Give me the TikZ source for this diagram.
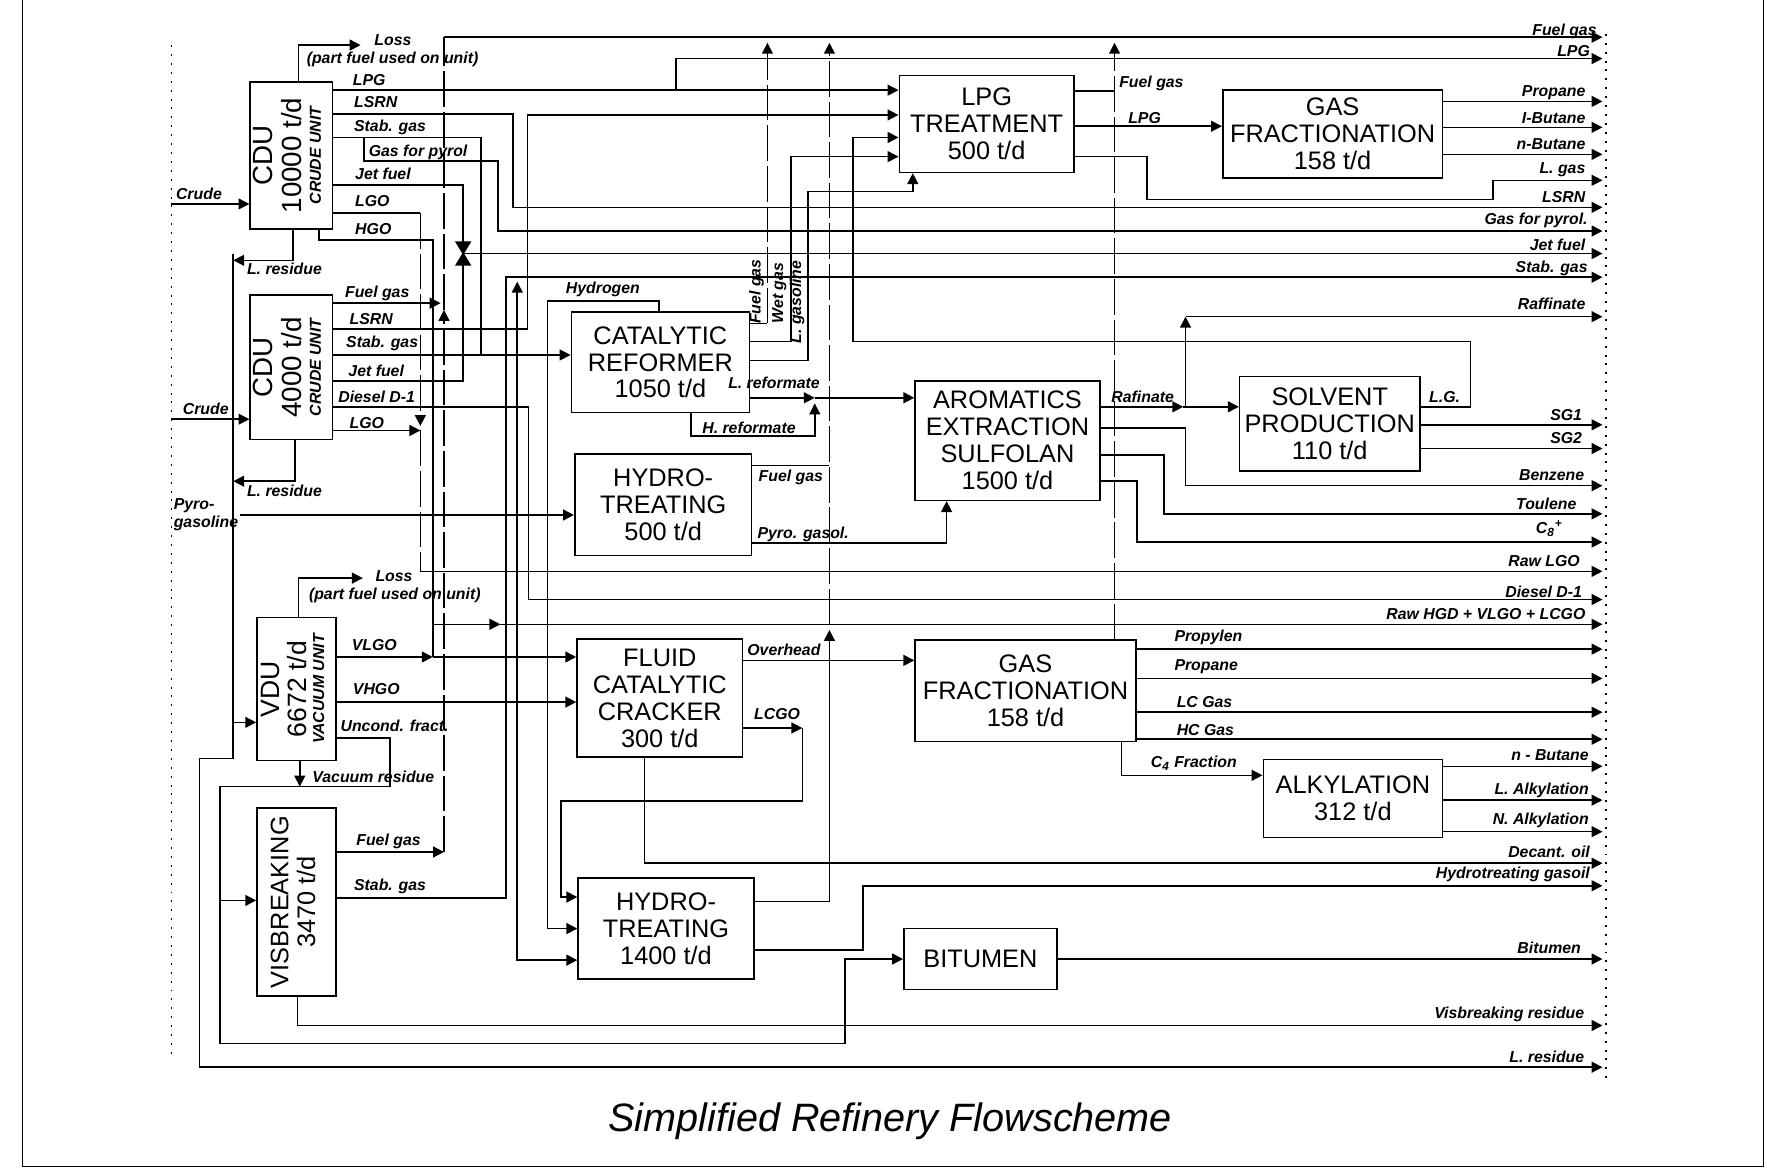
\documentclass[tikz,border=0pt]{standalone}
\usepackage{fontspec}
\setmainfont{Liberation Sans}
\usepackage{graphicx}
\usetikzlibrary{arrows.meta}
\newcommand{\unitfont}{\fontsize{12.8}{13.6}\selectfont}
\newcommand{\bigunitfont}{\fontsize{14}{14}\selectfont}
\newcommand{\tagfont}{\fontsize{8}{9}\selectfont\bfseries\itshape}
\tikzset{
  unit/.style={draw, line width=0.8pt, align=center, inner sep=0pt, font=\unitfont},
  tag/.style={font=\tagfont, inner sep=0.5pt, anchor=west},
  rtag/.style={font=\tagfont, inner sep=0.5pt, anchor=east},
  vtag/.style={font=\tagfont, inner sep=0.5pt, rotate=90, anchor=south east},
  pipe/.style={line width=0.8pt},
  flow/.style={pipe, -{Triangle[length=5.5pt,width=5.5pt]}},
  gapped/.style={dash pattern=on 18pt off 2.5pt},
  limit/.style={pipe, dash pattern=on 1pt off 3.5pt},
}
\begin{document}
\begin{tikzpicture}[x=0.02cm, y=-0.02cm]
\useasboundingbox (0,0) rectangle (1568,1037);
% frame and battery limits
\draw[pipe] (20,0) -- (20,1035) -- (1565,1035) -- (1565,0);
\draw[limit] (152,40) -- (152,940);
\draw[limit] (1425,30) -- (1425,962);

% process units
\node[unit, font=\bigunitfont, minimum width=1.46cm, minimum height=2.6cm] (cdua) at (258.5,138)
  {\rotatebox{90}{\begin{tabular}{@{}c@{}}CDU\\10000 t/d\\[-4pt]{\tagfont CRUDE UNIT}\end{tabular}}};
\node[unit, font=\bigunitfont, minimum width=1.46cm, minimum height=2.56cm] (cdub) at (258.5,326)
  {\rotatebox{90}{\begin{tabular}{@{}c@{}}CDU\\4000 t/d\\[-4pt]{\tagfont CRUDE UNIT}\end{tabular}}};
\node[unit, font=\fontsize{13.4}{13}\selectfont, minimum width=1.4cm, minimum height=2.54cm] (vdu) at (263,611.5)
  {\rotatebox{90}{\begin{tabular}{@{}c@{}}VDU\\6672 t/d\\[-4pt]{\tagfont VACUUM UNIT}\end{tabular}}};
\node[unit, minimum width=1.4cm, minimum height=3.34cm] (vb) at (263,800.5)
  {\rotatebox{90}{\begin{tabular}{@{}c@{}}VISBREAKING\\3470 t/d\end{tabular}}};
\node[unit, minimum width=3.1cm, minimum height=1.72cm] (lpgt) at (875.5,110) {LPG\\TREATMENT\\500 t/d};
\node[unit, minimum width=3.9cm, minimum height=1.56cm] (gfa) at (1182.5,119) {GAS\\FRACTIONATION\\158 t/d};
\node[unit, minimum width=3.16cm, minimum height=1.78cm] (cref) at (586,321.5) {CATALYTIC\\REFORMER\\1050 t/d};
\node[unit, minimum width=3.14cm, minimum height=1.8cm] (hta) at (588.5,448) {HYDRO-\\TREATING\\500 t/d};
\node[unit, minimum width=3.28cm, minimum height=2.12cm] (arom) at (894,391) {AROMATICS\\EXTRACTION\\SULFOLAN\\1500 t/d};
\node[unit, minimum width=3.2cm, minimum height=1.68cm] (solv) at (1180,376) {SOLVENT\\PRODUCTION\\110 t/d};
\node[unit, minimum width=2.94cm, minimum height=2.1cm] (fcc) at (585.5,619.5) {FLUID\\CATALYTIC\\CRACKER\\300 t/d};
\node[unit, minimum width=3.92cm, minimum height=1.8cm] (gfb) at (910,613) {GAS\\FRACTIONATION\\158 t/d};
\node[unit, minimum width=3.18cm, minimum height=1.38cm] (alky) at (1200.5,708.5) {ALKYLATION\\312 t/d};
\node[unit, minimum width=3.12cm, minimum height=1.8cm] (htb) at (591,824) {HYDRO-\\TREATING\\1400 t/d};
\node[unit, minimum width=2.72cm, minimum height=1.08cm] (bitu) at (870,851) {BITUMEN};

% CDU 10000
\draw[flow] (152,181) -- (cdua.west |- 0,181);
\draw[flow] (265,0 |- cdua.north) |- (320,40);
\draw[flow] (cdua.east |- 0,80) -- (lpgt.west |- 0,80);
\draw[flow] (600,80) |- (1422,52);
\draw[flow] (cdua.east |- 0,101) -| (455,184) -- (1422,184);
\draw[pipe] (cdua.east |- 0,122) -| (427,315);
\draw[flow] (323,122) |- (442,143) |- (1422,205);
\draw[pipe] (cdua.east |- 0,164) -| (411,215);
\filldraw[pipe] (405,215) -- (417,215) -- (411,225) -- cycle (405,235) -- (417,235) -- (411,225) -- cycle;
\draw[flow] (411,225) -- (1422,225);
\draw[pipe] (cdua.east |- 0,189) -- (373,189);
\draw[flow, gapped] (373,189) -- (373,378);
\draw[pipe] (283,0 |- cdua.south) |- (384,213) -- (384,583);
\draw[flow] (260,0 |- cdua.south) |- (207,231);

% CDU 4000
\draw[flow] (152,372) -- (cdub.west |- 0,372);
\draw[flow] (cdub.east |- 0,269) -- (391,269);
\draw[flow] (cdub.east |- 0,292) -| (468,102) -- (lpgt.west |- 0,102);
\draw[flow] (cdub.east |- 0,315) -- (cref.west |- 0,315);
\draw[pipe] (cdub.east |- 0,338) -| (411,235);
\draw[flow] (cdub.east |- 0,361) -| (469,532) -- (1422,532);
\draw[flow] (cdub.east |- 0,382) -- (373,382);
\draw[pipe, gapped] (373,382) -- (373,507);
\draw[flow] (373,507) -- (1422,507);
\draw[flow] (262,0 |- cdub.south) |- (207,427);
\draw[flow] (213,457) -- (hta.west |- 0,457);

% residue header
\draw[flow] (207,225) |- (177,673) |- (1422,947);
\draw[flow] (207,641) -- (vdu.west |- 0,641);

% VDU
\draw[flow] (265,0 |- vdu.north) |- (322,513);
\draw[flow] (vdu.east |- 0,583) -- (384,583);
\draw[flow] (384,583) -- (fcc.west |- 0,583);
\draw[flow] (384,554) -- (444,554);
\draw[flow] (444,554) -- (1422,554);
\draw[flow] (vdu.east |- 0,623) -- (fcc.west |- 0,623);
\draw[pipe] (vdu.east |- 0,655) -| (346,698);
\draw[flow] (266,0 |- vdu.south) -- (266,698);
\draw[flow] (346,698) -| (195,926) -| (750,851) -- (bitu.west);
\draw[flow] (195,799) -- (vb.west |- 0,799);

% visbreaking
\draw[flow] (vb.east |- 0,756) -- (394,756);
\draw[flow, gapped] (394,756) -- (394,275);
\draw[pipe, gapped] (394,275) -- (394,33);
\draw[flow] (394,33) -- (1422,33);
\draw[flow] (vb.east |- 0,797) -| (449,246) -- (1422,246);
\draw[flow] (264,0 |- vb.south) |- (1422,910);

% stab. gas and hydrogen
\draw[flow] (459,315) -- (459,250);
\draw[flow] (459,315) |- (htb.west |- 0,852);
\draw[flow] (585,0 |- cref.north) |- (486,267) |- (htb.west |- 0,824);

% reformer
\draw[pipe] (cref.east |- 0,287) -- (681,287);
\draw[flow, gapped] (681,287) -- (681,38);
\draw[flow] (cref.east |- 0,303) -| (702,139) -- (lpgt.west |- 0,139);
\draw[flow] (cref.east |- 0,320) -| (717,170) -| (lpgt.south -| 810,0);
\draw[flow] (cref.east |- 0,353) -- (723,353);
\draw[flow] (723,353) -- (arom.west |- 0,353);
\draw[flow] (613,0 |- cref.south) |- (723,387) -- (723,358);

% hydrotreating 500
\draw[pipe] (hta.east |- 0,413) -- (736,413);
\draw[flow] (hta.east |- 0,482) -| (arom.south -| 840,0);
\draw[flow] (htb.east |- 0,800) -| (736,559);
\draw[flow, gapped] (736,554) -- (736,38);

% LPG treatment and gas fractionation
\draw[pipe] (lpgt.east |- 0,81) -- (989,81);
\draw[flow, gapped] (989,0 |- gfb.north) -- (989,38);
\draw[flow] (lpgt.east |- 0,112) -- (gfa.west |- 0,112);
\draw[flow] (lpgt.east |- 0,139) -| (1018,177) -| (1325,160) -- (1422,160);
\foreach \y in {90,113,137} \draw[flow] (gfa.east |- 0,\y) -- (1422,\y);

% aromatics and solvent
\draw[flow] (arom.east |- 0,361) -- (1050,361);
\draw[flow] (1050,361) -- (solv.west |- 0,361);
\draw[flow] (1052,361) -- (1052,281);
\draw[flow] (1052,281) -- (1422,281);
\draw[flow] (arom.east |- 0,380) -| (1052,431) -- (1422,431);
\draw[flow] (arom.east |- 0,404) -| (1033,456) -- (1422,456);
\draw[flow] (arom.east |- 0,427) -| (1009,481) -- (1422,481);
\foreach \y in {377,398} \draw[flow] (solv.east |- 0,\y) -- (1422,\y);
\draw[flow] (solv.east |- 0,361) -| (1305,303) -| (757,122) -- (lpgt.west |- 0,122);

% FCC, gas fractionation, alkylation
\draw[flow] (fcc.east |- 0,586) -- (gfb.west |- 0,586);
\draw[flow] (fcc.east |- 0,646) -- (712,646);
\draw[flow] (712,646) |- (498,711) |- (htb.west |- 0,796);
\draw[flow] (572,0 |- fcc.south) |- (1422,766);
\foreach \y in {576,602,632,656} \draw[flow] (gfb.east |- 0,\y) -- (1422,\y);
\draw[flow] (995,0 |- gfb.south) |- (alky.west |- 0,688);
\foreach \y in {680,710,738} \draw[flow] (alky.east |- 0,\y) -- (1422,\y);

% hydrotreating 1400 and bitumen
\draw[flow] (htb.east |- 0,843) -| (766,786) -- (1422,786);
\draw[flow] (bitu.east) -- (1422,851);

% stream labels
\foreach \t/\x/\y [count=\i] in {{Loss}/331/36, {(part fuel used on unit)}/271/53, {LPG}/312/71,
  {LSRN}/313/91, {Stab. gas}/313/113, {Gas for pyrol}/326/135, {Jet fuel}/314/154, {LGO}/314/178,
  {HGO}/314/203, {L. residue}/218/239, {Crude}/155/172, {Fuel gas}/305/260, {LSRN}/309/283,
  {Stab. gas}/306/305, {Jet fuel}/308/329, {Diesel D-1}/299/352, {LGO}/309/375, {L. residue}/218/436,
  {Crude}/161/363, {Loss}/332/511, {(part fuel used on unit)}/273/528, {VLGO}/311/572, {VHGO}/312/611,
  {Uncond. fract.}/301/644, {Vacuum residue}/276/689, {Fuel gas}/315/747, {Stab. gas}/313/787,
  {Hydrogen}/501/257, {L. reformate}/645/340, {H. reformate}/622/380, {Fuel gas}/672/424,
  {Pyro. gasol.}/671/474, {Fuel gas}/992/74, {LPG}/1000/105, {Rafinate}/985/352, {L.G.}/1267/352,
  {Overhead}/662/577, {LCGO}/668/634, {Propylen}/1041/566, {Propane}/1041/592, {LC Gas}/1043/623,
  {HC Gas}/1043/648, {C\textsubscript{4} Fraction}/1020/677}
  \node[tag] (lt\i) at (\x,\y) {\t};
\node[tag, align=left] (pyro) at (153,457) {Pyro-\\gasoline};
\node[vtag] (vt1) at (679,229) {Fuel gas};
\node[vtag] (vt2) at (699,232) {Wet gas};
\node[vtag] (vt3) at (715,230) {L. gasoline};
\foreach \t/\x/\y [count=\i] in {{Fuel gas}/1418/28, {LPG}/1412/45, {Propane}/1408/82,
  {I-Butane}/1408/105, {n-Butane}/1408/128, {L. gas}/1408/151, {LSRN}/1408/175,
  {Gas for pyrol.}/1410/196, {Jet fuel}/1408/217, {Stab. gas}/1410/238, {Raffinate}/1408/270,
  {SG1}/1405/368, {SG2}/1405/389, {Benzene}/1407/422, {Toulene}/1400/447,
  {C\textsubscript{8}\textsuperscript{+}}/1388/469,
  {Raw LGO}/1403/498, {Diesel D-1}/1405/525, {Raw HGD + VLGO + LCGO}/1408/545,
  {n - Butane}/1411/670, {L. Alkylation}/1411/701, {N. Alkylation}/1411/728, {Decant. oil}/1412/756,
  {Hydrotreating gasoil}/1412/776, {Bitumen}/1404/841, {Visbreaking residue}/1407/900,
  {L. residue}/1407/938}
  \node[rtag] (rt\i) at (\x,\y) {\t};

\node[font=\fontsize{20}{24}\selectfont\itshape] (title) at (790,995) {Simplified Refinery Flowscheme};
\end{tikzpicture}
\end{document}
